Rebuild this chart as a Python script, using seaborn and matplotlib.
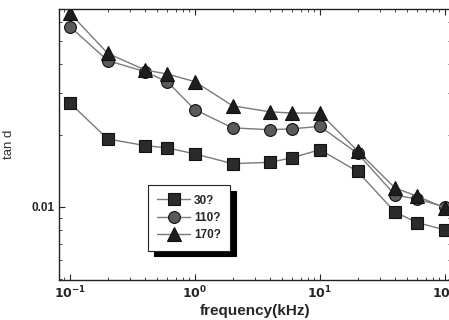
import numpy as np
import pandas as pd
import matplotlib
matplotlib.use("Agg")
import matplotlib.pyplot as plt
import matplotlib.ticker as mticker
import seaborn as sns

freq = [0.1, 0.2, 0.4, 0.6, 1, 2, 4, 6, 10, 20, 40, 60, 100]
tan_30 = [0.0273, 0.0193, 0.0181, 0.0177, 0.0167, 0.0152, 0.0154, 0.0161, 0.0174, 0.0141, 0.0095, 0.0086, 0.0080]
tan_110 = [0.0572, 0.0412, 0.0370, 0.0336, 0.0256, 0.0215, 0.0211, 0.0213, 0.0218, 0.0168, 0.0112, 0.0108, 0.0100]
tan_170 = [0.0651, 0.0442, 0.0376, 0.0362, 0.0336, 0.0266, 0.0251, 0.0248, 0.0248, 0.0172, 0.0120, 0.0111, 0.0099]
labels = ["30?", "110?", "170?"]
x_ticks = [0.1, 1, 10, 100]
x_ticklabels = [r"$\mathbf{10^{-1}}$", r"$\mathbf{10^{0}}$", r"$\mathbf{10^{1}}$", r"$\mathbf{10^{2}}$"]

sns.set_style("ticks")
plt.rcParams["font.family"] = ["Liberation Sans", "DejaVu Sans"]

fig = plt.figure(figsize=(4.49, 3.2), dpi=100)
ax = fig.add_axes([59 / 449, 40 / 320, 392 / 449, 271 / 320])

series = [tan_30, tan_110, tan_170]
markers = ["s", "o", "^"]
faces = ["#2b2b2b", "#5a5a5a", "#1e1e1e"]
sizes = [8.5, 8.5, 10]
for vals, lab, m, fc, ms in zip(series, labels, markers, faces, sizes):
    df = pd.DataFrame({"freq": freq, "tan": vals})
    sns.lineplot(data=df, x="freq", y="tan", ax=ax, color="#7a7a7a", linewidth=1.0,
                 marker=m, markersize=ms, markerfacecolor=fc, markeredgecolor="#111111",
                 markeredgewidth=0.8, label=lab)

ax.set_xscale("log")
ax.set_yscale("log")
ax.set_xlim(0.0815, 112)
ax.set_ylim(0.00493, 0.0679)

ax.set_xticks(x_ticks)
ax.set_xticklabels(x_ticklabels)
ax.xaxis.set_minor_locator(mticker.LogLocator(base=10, subs=np.arange(2, 10)))
ax.xaxis.set_minor_formatter(mticker.NullFormatter())
ax.set_yticks([0.01])
ax.set_yticklabels(["0.01"], fontweight="bold")
ax.yaxis.set_minor_locator(mticker.LogLocator(base=10, subs=np.arange(2, 10)))
ax.yaxis.set_minor_formatter(mticker.NullFormatter())

ax.tick_params(which="both", direction="in", top=True, right=True, labelsize=8.5)
ax.tick_params(which="major", length=4, width=0.8)
ax.tick_params(which="minor", length=2, width=0.6)
for lbl in ax.get_xticklabels():
    lbl.set_fontsize(9)
for s in ax.spines.values():
    s.set_linewidth(1.0)
    s.set_color("#222222")

ax.set_xlabel("frequency(kHz)", fontsize=11, fontweight="bold", labelpad=2)
ax.set_ylabel("tan d", fontsize=9.5, color="#333333")
ax.yaxis.set_label_coords(-0.112, 0.5)

leg = ax.legend(loc="upper left", bbox_to_anchor=(0.227, 0.35), frameon=True, fancybox=False,
                shadow={"color": "black", "alpha": 1.0, "ox": 4, "oy": -4},
                prop={"weight": "bold", "size": 8.5}, handlelength=2.8, handletextpad=0.3,
                borderpad=0.8, labelspacing=0.45, borderaxespad=0)
leg.get_frame().set_edgecolor("#222222")
leg.get_frame().set_linewidth(0.8)

fig.savefig("out.png", dpi=100)
